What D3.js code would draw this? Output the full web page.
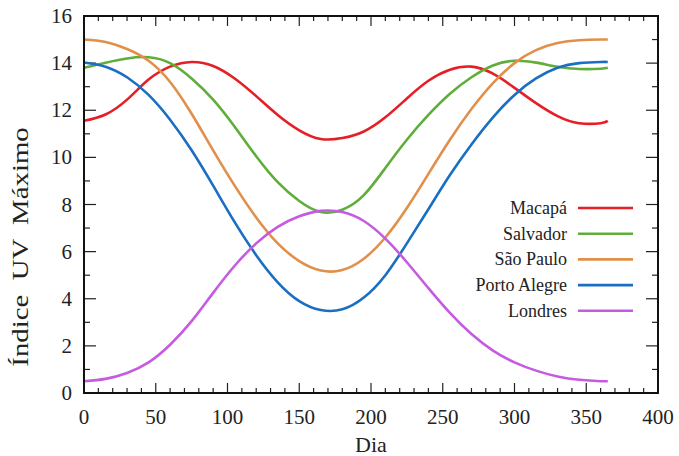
<!DOCTYPE html>
<html>
<head>
<meta charset="utf-8">
<script src="https://cdn.jsdelivr.net/npm/d3@7"></script>
<style>
  body { margin: 0; background: #fff; }
  text { font-family: 'Liberation Serif', 'DejaVu Serif', serif; fill: #222; }
</style>
</head>
<body>
<div id="chart"></div>
<script>
// day of year
var days = [0, 15, 30, 45, 60, 75, 90, 105, 120, 135, 150, 165, 180, 195, 210, 225, 240, 255, 270, 285, 300, 315, 330, 345, 360, 365];

// max UV index per city
var macapa = [11.55, 11.82, 12.45, 13.3, 13.85, 14.05, 13.88, 13.35, 12.6, 11.8, 11.15, 10.78, 10.82, 11.1, 11.7, 12.5, 13.25, 13.72, 13.85, 13.55, 12.95, 12.3, 11.75, 11.45, 11.45, 11.55];
var salvador = [13.8, 14.02, 14.2, 14.25, 14.0, 13.35, 12.45, 11.3, 10.05, 8.95, 8.15, 7.68, 7.78, 8.4, 9.55, 10.75, 11.8, 12.7, 13.4, 13.9, 14.1, 14.02, 13.85, 13.75, 13.76, 13.8];
var saoPaulo = [15.0, 14.9, 14.6, 14.1, 13.2, 11.85, 10.3, 8.8, 7.45, 6.35, 5.6, 5.2, 5.22, 5.7, 6.6, 7.85, 9.3, 10.75, 12.05, 13.15, 14.0, 14.55, 14.85, 14.97, 15.0, 15.0];
var portoAlegre = [14.03, 13.85, 13.4, 12.65, 11.6, 10.3, 8.8, 7.25, 5.85, 4.7, 3.9, 3.52, 3.55, 4.05, 5.0, 6.35, 7.8, 9.25, 10.55, 11.7, 12.65, 13.35, 13.8, 14.0, 14.05, 14.05];
var londres = [0.5, 0.6, 0.85, 1.3, 2.05, 3.05, 4.25, 5.4, 6.35, 7.05, 7.5, 7.73, 7.68, 7.3, 6.55, 5.55, 4.45, 3.4, 2.5, 1.8, 1.3, 0.95, 0.7, 0.56, 0.5, 0.5];

var names = ['Macapá', 'Salvador', 'São Paulo', 'Porto Alegre', 'Londres'];
var colors = ['#e41f26', '#5fae3a', '#e0904b', '#1b6fc2', '#c55be0'];
var values = [macapa, salvador, saoPaulo, portoAlegre, londres];

var xTicks = [0, 50, 100, 150, 200, 250, 300, 350, 400];
var yTicks = [0, 2, 4, 6, 8, 10, 12, 14, 16];

// size
var W = 679, H = 456;
var pl = 84, pr = 658, pt = 16, pb = 393;

var svg = d3
  .select('#chart')
  .append('svg')
  .attr('width', W)
  .attr('height', H);

// scales
var x = d3.scaleLinear().domain([0, 400]).range([pl, pr]);
var y = d3.scaleLinear().domain([0, 16]).range([pb, pt]);

// minor ticks
var xMinor = d3.range(0, 401, 10).filter(function (d) { return d % 50 !== 0; });
var yMinor = d3.range(0, 17, 1).filter(function (d) { return d % 2 !== 0; });

// ticks: bottom / top
var gt = svg.append('g').attr('stroke', '#222').attr('stroke-width', 1.2);
xTicks.forEach(function (d) {
  gt.append('line').attr('x1', x(d)).attr('x2', x(d)).attr('y1', pb).attr('y2', pb - 10);
  gt.append('line').attr('x1', x(d)).attr('x2', x(d)).attr('y1', pt).attr('y2', pt + 10);
});
xMinor.forEach(function (d) {
  gt.append('line').attr('x1', x(d)).attr('x2', x(d)).attr('y1', pb).attr('y2', pb - 5);
  gt.append('line').attr('x1', x(d)).attr('x2', x(d)).attr('y1', pt).attr('y2', pt + 5);
});
// ticks: left / right
yTicks.forEach(function (d) {
  gt.append('line').attr('x1', pl).attr('x2', pl + 12).attr('y1', y(d)).attr('y2', y(d));
  gt.append('line').attr('x1', pr).attr('x2', pr - 12).attr('y1', y(d)).attr('y2', y(d));
});
yMinor.forEach(function (d) {
  gt.append('line').attr('x1', pl).attr('x2', pl + 6).attr('y1', y(d)).attr('y2', y(d));
  gt.append('line').attr('x1', pr).attr('x2', pr - 6).attr('y1', y(d)).attr('y2', y(d));
});

// tick labels
svg.append('g')
  .selectAll('text')
  .data(xTicks)
  .enter()
  .append('text')
  .attr('x', function (d) { return x(d); })
  .attr('y', 424)
  .attr('text-anchor', 'middle')
  .attr('font-size', 21)
  .text(function (d) { return d; });
svg.append('g')
  .selectAll('text')
  .data(yTicks)
  .enter()
  .append('text')
  .attr('x', 72)
  .attr('y', function (d) { return y(d) + 7; })
  .attr('text-anchor', 'end')
  .attr('font-size', 21)
  .text(function (d) { return d; });

// axis titles
svg.append('text')
  .attr('x', (pl + pr) / 2)
  .attr('y', 452)
  .attr('text-anchor', 'middle')
  .attr('font-size', 22)
  .text('Dia');
svg.append('text')
  .attr('transform', 'translate(28,247) rotate(-90) scale(1.2,1)')
  .attr('text-anchor', 'middle')
  .attr('font-size', 24)
  .attr('word-spacing', 6)
  .text('Índice UV Máximo');

// lines
var line = d3
  .line()
  .x(function (d, i) { return x(days[i]); })
  .y(function (d) { return y(d); })
  .curve(d3.curveNatural);

var gl = svg.append('g');
values.forEach(function (v, k) {
  gl.append('path')
    .attr('d', line(v))
    .attr('fill', 'none')
    .attr('stroke', colors[k])
    .attr('stroke-width', 2.6);
});

// legend
var gk = svg.append('g');
names.forEach(function (n, k) {
  var ly = 208 + k * 25.7;
  gk.append('text')
    .attr('x', 567)
    .attr('y', ly + 6)
    .attr('text-anchor', 'end')
    .attr('font-size', 18)
    .text(n);
  gk.append('line')
    .attr('x1', 578)
    .attr('x2', 633)
    .attr('y1', ly)
    .attr('y2', ly)
    .attr('stroke', colors[k])
    .attr('stroke-width', 2.6);
});

// frame
svg.append('rect')
  .attr('x', pl)
  .attr('y', pt)
  .attr('width', pr - pl)
  .attr('height', pb - pt)
  .attr('fill', 'none')
  .attr('stroke', '#111')
  .attr('stroke-width', 2);
</script>
</body>
</html>
